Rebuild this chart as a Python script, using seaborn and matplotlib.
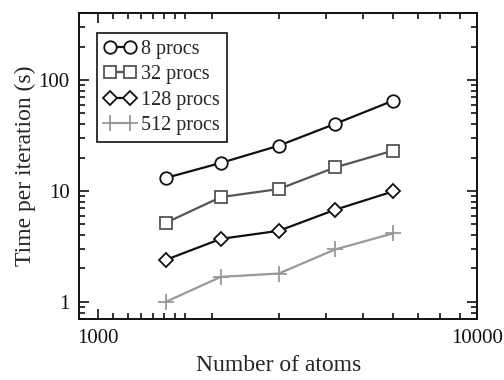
import matplotlib
matplotlib.use("Agg")
import matplotlib.pyplot as plt
import matplotlib.ticker as mticker
import seaborn as sns
import pandas as pd

atoms = [1512, 2112, 3000, 4224, 6000]
series_names = ["8 procs", "32 procs", "128 procs", "512 procs"]
t8 = [13.1, 17.9, 25.6, 40.3, 65.2]
t32 = [5.16, 8.8, 10.4, 16.3, 23.1]
t128 = [2.39, 3.7, 4.37, 6.77, 9.9]
t512 = [1.0, 1.68, 1.80, 2.97, 4.14]
x_major = [1000, 10000]
y_major = [1, 10, 100]

sns.set_style("ticks")
plt.rcParams["font.family"] = ["Liberation Serif", "DejaVu Serif"]

rows = []
for name, vals in zip(series_names, [t8, t32, t128, t512]):
    for a, v in zip(atoms, vals):
        rows.append({"atoms": a, "time": v, "series": name})
df = pd.DataFrame(rows)

fig = plt.figure(figsize=(5.04, 3.80), dpi=100)
ax = fig.add_axes([0.1574, 0.1605, 0.7896, 0.8045])

styles = {
    "8 procs": dict(color="#111111", marker="o", ms=9),
    "32 procs": dict(color="#555555", marker="s", ms=8),
    "128 procs": dict(color="#111111", marker="D", ms=7.5),
    "512 procs": dict(color="#999999", marker="+", ms=12),
}
for name in series_names:
    st = styles[name]
    sub = df[df["series"] == name]
    sns.lineplot(data=sub, x="atoms", y="time", ax=ax, color=st["color"],
                 marker=st["marker"], markersize=st["ms"], markerfacecolor="white",
                 markeredgecolor=st["color"], markeredgewidth=1.3, linewidth=1.6,
                 label=name, legend=False)

ax.set_xscale("log")
ax.set_yscale("log")
ax.set_xlim(895, 10000)
ax.set_ylim(0.7, 400)

ax.xaxis.set_major_locator(mticker.FixedLocator(x_major))
ax.xaxis.set_major_formatter(mticker.FixedFormatter([str(v) for v in x_major]))
xminor = [1100, 1200, 1300, 1400, 1500, 1600, 1700] + list(range(2000, 10000, 1000))
ax.xaxis.set_minor_locator(mticker.FixedLocator(xminor))
ax.xaxis.set_minor_formatter(mticker.NullFormatter())
ax.yaxis.set_major_locator(mticker.FixedLocator(y_major))
ax.yaxis.set_major_formatter(mticker.FixedFormatter([str(v) for v in y_major]))
ax.yaxis.set_minor_locator(mticker.LogLocator(base=10, subs=range(2, 10)))
ax.yaxis.set_minor_formatter(mticker.NullFormatter())

ax.tick_params(which="both", direction="in", top=True, right=True, width=1.2, colors="#111111")
ax.tick_params(which="major", length=7, labelsize=15, pad=7)
ax.tick_params(which="minor", length=4)
for sp in ax.spines.values():
    sp.set_linewidth(1.4)
    sp.set_color("#111111")
    sp.set_visible(True)

ax.set_xlabel("Number of atoms", fontsize=17, labelpad=5)
ax.set_ylabel("Time per iteration (s)", fontsize=17, labelpad=2)

leg = ax.legend(loc="upper left", bbox_to_anchor=(0.044, 0.935), borderaxespad=0,
                fontsize=14.5, numpoints=2, handlelength=1.6, handletextpad=0.25,
                labelspacing=0.3, borderpad=0.35, fancybox=False, framealpha=1,
                edgecolor="#111111")
leg.get_frame().set_linewidth(1.2)

fig.savefig("out.png", dpi=100)
